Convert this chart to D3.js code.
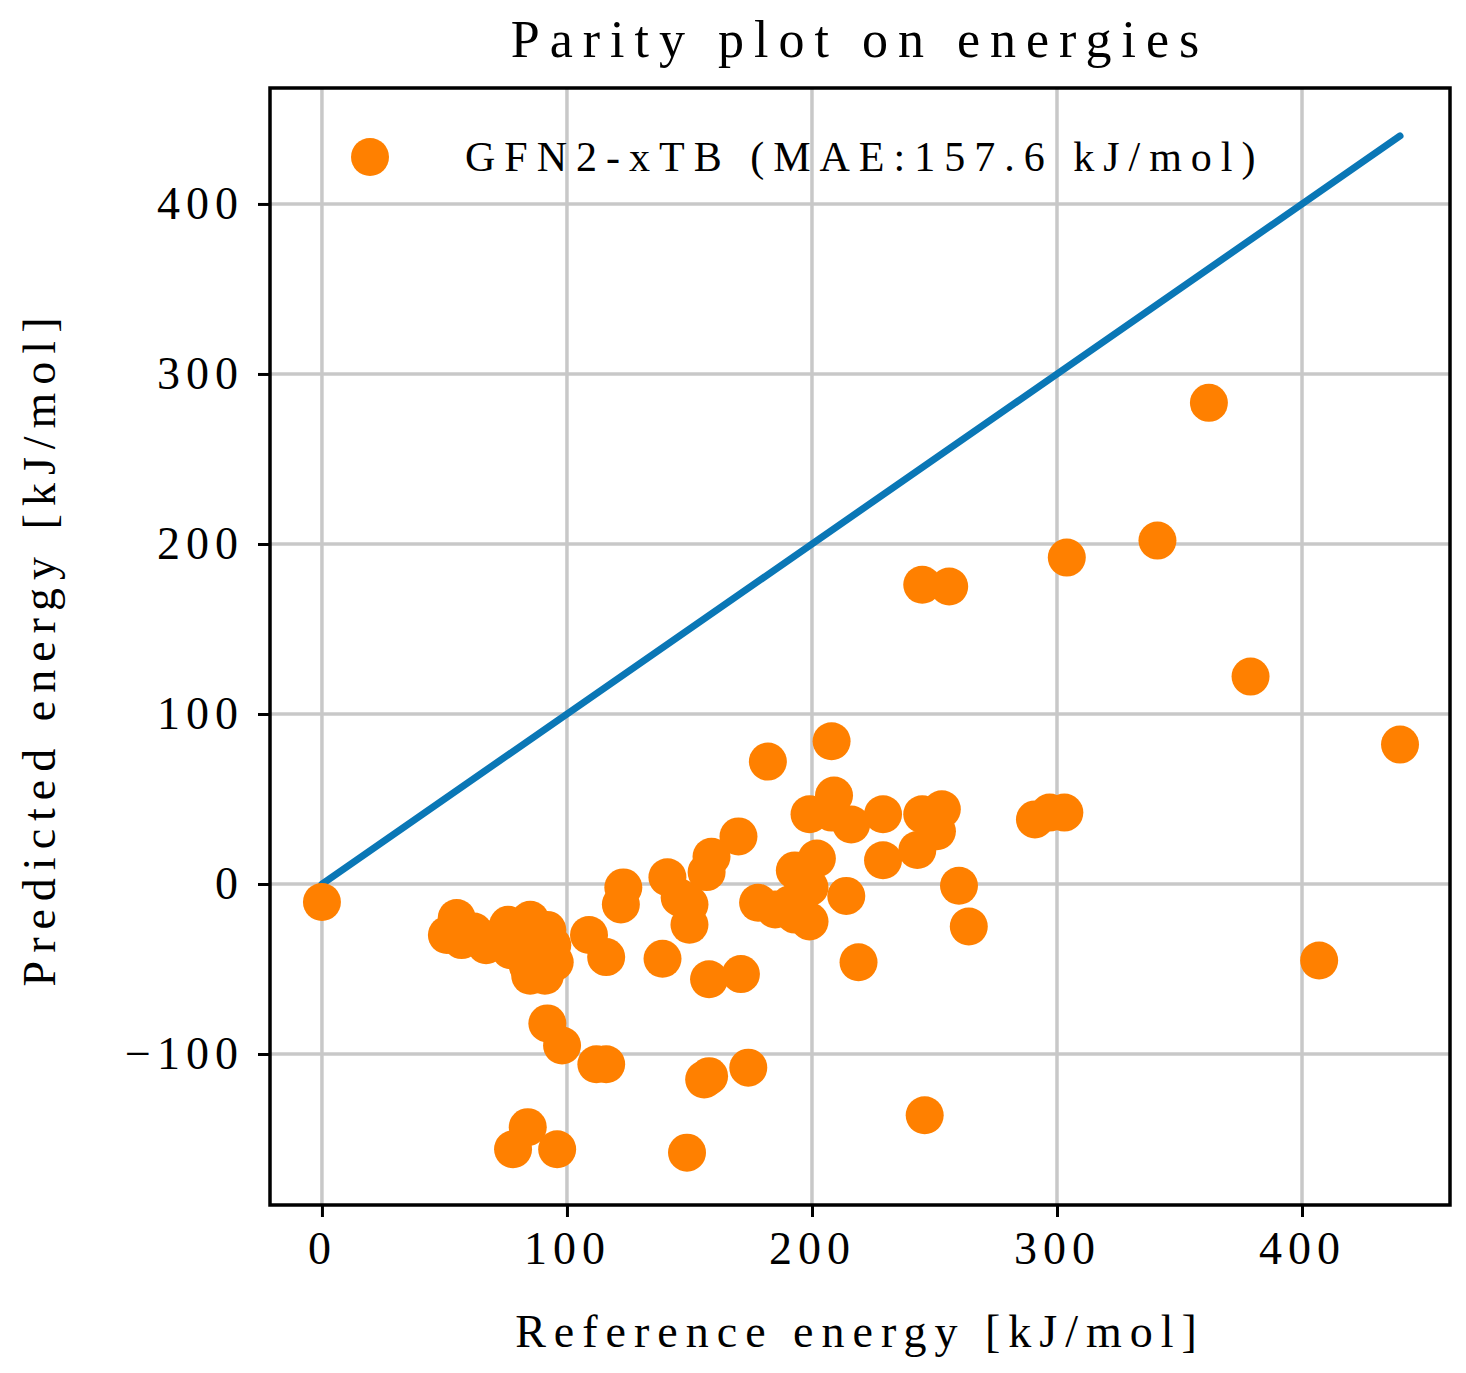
<!DOCTYPE html>
<html><head><meta charset="utf-8">
<script src="https://cdn.jsdelivr.net/npm/d3@7"></script>
<style>body{margin:0;background:#fff}text{font-family:"Liberation Serif",serif}</style>
</head><body><svg id="c" width="1466" height="1373"></svg>
<script>
const refE = [0,51,55,57,62,67,71,76,77,81,85,84,89,92,94,95,91,85,109,116,122,123,92,98,112,116,78,84,96,149,156,158,174,171,158,139,141,146,150,150,157,159,170,182,178,185,191,193,195,199,199,193,202,199,208,209,208,216,214,219,229,229,245,256,245,253,251,243,260,264,246,291,297,303,304,341,362,379,407,440];
const predE = [-10.6,-30,-20,-33,-28,-36,-32,-24,-39,-33,-21,-48,-42,-27,-36,-46,-54,-54,-30,-43,-12,-2,-82,-95,-106,-106,-156,-143,-156,-158,-115,-113,-108,-53,-56,-44,4,-8,-12,-24,7,16,28,72,-11,-15,-12,8,-8,-2,-22,-18,15,41,84,52,42,35,-7,-46,41,14,176,175,41,44,31,20,-1,-25,-136,38,42,42,192,202,283,122,-45,82];
const xTicks = [0,100,200,300,400];
const yTicks = [-100,0,100,200,300,400];

const svg = d3.select("#c");
const L = 270, R = 1450, T = 88, B = 1205;
const x = d3.scaleLinear().domain([-21.2, 460.4]).range([L, R]);
const y = d3.scaleLinear().domain([-188.8, 468.2]).range([B, T]);

// grid
svg.append("g").selectAll("line").data(xTicks).join("line")
  .attr("x1", d => x(d)).attr("x2", d => x(d)).attr("y1", T).attr("y2", B)
  .attr("stroke", "#c8c8c8").attr("stroke-width", 3.5);
svg.append("g").selectAll("line").data(yTicks).join("line")
  .attr("y1", d => y(d)).attr("y2", d => y(d)).attr("x1", L).attr("x2", R)
  .attr("stroke", "#c8c8c8").attr("stroke-width", 3.5);

// parity line
svg.append("line").attr("x1", x(0)).attr("y1", y(0)).attr("x2", x(440)).attr("y2", y(440))
  .attr("stroke", "#0a77b6").attr("stroke-width", 7).attr("stroke-linecap", "round");

// points
svg.append("g").selectAll("circle").data(refE).join("circle")
  .attr("cx", d => x(d)).attr("cy", (d, i) => y(predE[i])).attr("r", 19)
  .attr("fill", "#ff8000");

// axes
const xa = svg.append("g").attr("transform", `translate(0,${B})`)
  .call(d3.axisBottom(x).tickValues(xTicks).tickSize(12).tickPadding(14));
const ya = svg.append("g").attr("transform", `translate(${L},0)`)
  .call(d3.axisLeft(y).tickValues(yTicks).tickSize(12).tickPadding(14).tickFormat(d => d < 0 ? "\u2212" + (-d) : d));
[xa, ya].forEach(a => {
  a.select(".domain").remove();
  a.selectAll("line").attr("stroke", "#000").attr("stroke-width", 3);
  a.selectAll("text").attr("font-size", 46).attr("letter-spacing", 6).attr("fill", "#000")
    .style("font-family", "Liberation Serif");
});

svg.append("rect").attr("x", L).attr("y", T).attr("width", R - L).attr("height", B - T)
  .attr("fill", "none").attr("stroke", "#000").attr("stroke-width", 3.5);

// labels
svg.append("text").attr("x", 860).attr("y", 57).attr("text-anchor", "middle")
  .attr("font-size", 52).attr("letter-spacing", 10).text("Parity plot on energies");
svg.append("text").attr("x", 860).attr("y", 1347).attr("text-anchor", "middle")
  .attr("font-size", 46).attr("letter-spacing", 8).text("Reference energy [kJ/mol]");
svg.append("text").attr("transform", "translate(55,648) rotate(-90)").attr("text-anchor", "middle")
  .attr("font-size", 46).attr("letter-spacing", 8).text("Predicted energy [kJ/mol]");

// legend
svg.append("circle").attr("cx", 370).attr("cy", 157).attr("r", 19).attr("fill", "#ff8000");
svg.append("text").attr("x", 465).attr("y", 171).attr("font-size", 42).attr("letter-spacing", 9)
  .text("GFN2-xTB (MAE:157.6 kJ/mol)");
</script></body></html>
